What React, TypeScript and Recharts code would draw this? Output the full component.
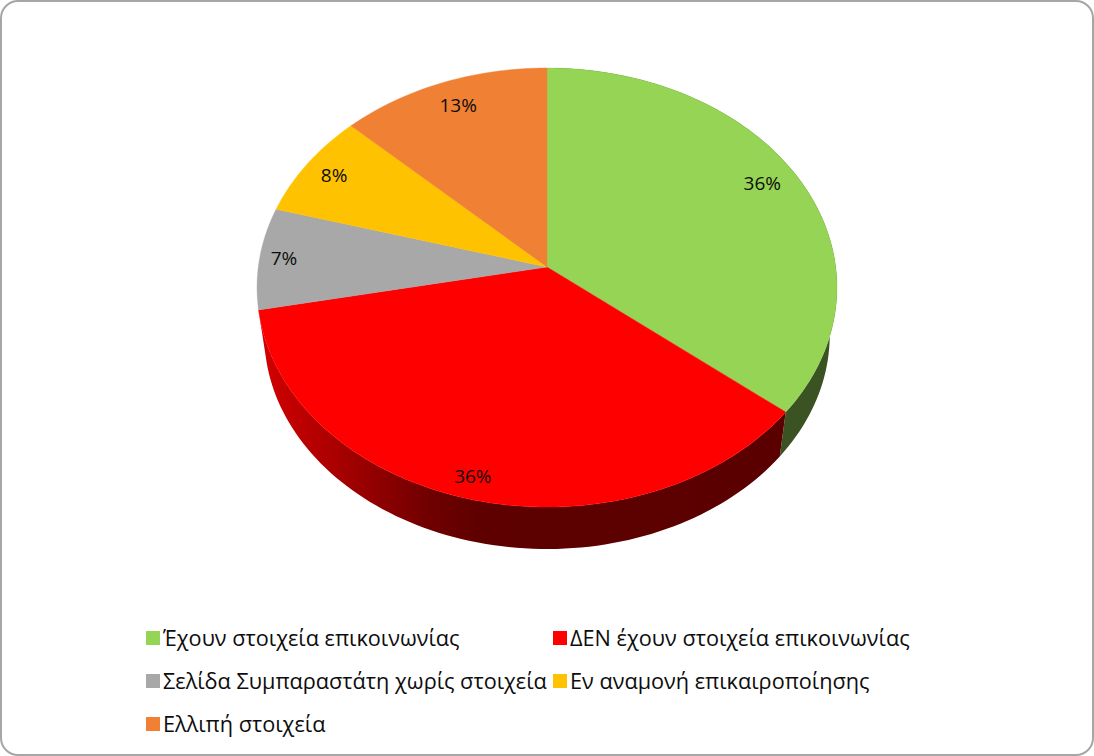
import { PieChart, Pie, Legend } from 'recharts'

const categories = [
  'Έχουν στοιχεία επικοινωνίας',
  'ΔΕΝ έχουν στοιχεία επικοινωνίας',
  'Σελίδα Συμπαραστάτη χωρίς στοιχεία',
  'Εν αναμονή επικαιροποίησης',
  'Ελλιπή στοιχεία',
]
const shares = [35.8, 36.1, 7.49, 7.75, 12.86]
const colors = ['#95D454', '#FF0000', '#A8A8A8', '#FFC200', '#F08033']
const wallFills = ['#3B5323', 'url(#redWall)', null, null, null]
// small hand nudges for the data labels, px
const labelNudge = [[-6, -4], [-8, 7], [-10, -1], [-1, -1], [4, 2]]

const rows = categories.map((name, i) => ({ name, value: shares[i], fill: colors[i] }))

const FONT = '"Open Sans", sans-serif'

// the disc is seen in perspective: back edge is nearer the centre than the front edge
const TILT_Y = 217.6 / 288.7
const PERSP = 0.0934
const WALL_DROP = 48
const WALL_SHRINK = 0.975

function project(cx: number, cy: number, r: number, deg: number, ratio = 1) {
  const u = Math.cos((deg * Math.PI) / 180) * ratio
  const v = Math.sin((deg * Math.PI) / 180) * ratio
  const w = 1 + PERSP * v
  return { x: cx + (r * u) / w, y: cy - (r * TILT_Y * v) / w }
}

function bottomRim(cx: number, cy: number, r: number, deg: number) {
  const p = project(cx, cy, r, deg)
  return { x: cx + (p.x - cx) * WALL_SHRINK, y: cy + WALL_DROP + (p.y - cy) * WALL_SHRINK }
}

function sweep(start: number, end: number) {
  const n = Math.max(2, Math.ceil(Math.abs(end - start) / 1.5))
  return Array.from({ length: n + 1 }, (_, i) => start + ((end - start) * i) / n)
}

const toPath = (pts: { x: number; y: number }[]) =>
  pts.map((p, i) => `${i ? 'L' : 'M'}${p.x.toFixed(2)},${p.y.toFixed(2)}`).join(' ') + ' Z'

function Slice(props: any) {
  const { cx, cy, outerRadius, startAngle, endAngle, fill, index } = props
  const angles = sweep(startAngle, endAngle)
  const rim = angles.map(a => project(cx, cy, outerRadius, a))
  const wall = wallFills[index]
  const lower = angles.map(a => bottomRim(cx, cy, outerRadius, a)).reverse()
  return (
    <g>
      {wall && <path d={toPath([...rim, ...lower])} fill={wall} />}
      <path d={toPath([{ x: cx, y: cy }, ...rim])} fill={fill} stroke={fill} strokeWidth={0.4} />
    </g>
  )
}

function SliceLabel(props: any) {
  const { cx, cy, outerRadius, midAngle, percent, index } = props
  const p = project(cx, cy, outerRadius, midAngle, 0.88)
  return (
    <text
      x={p.x + labelNudge[index][0]}
      y={p.y + labelNudge[index][1]}
      textAnchor="middle"
      dominantBaseline="central"
      fontSize={19}
      fontFamily={FONT}
      fill="#0d0d0d"
    >
      {`${Math.round(percent * 100)}%`}
    </text>
  )
}

function LegendBlock({ payload }: any) {
  return (
    <div style={{ display: 'flex', flexWrap: 'wrap', width: 820, fontFamily: FONT, fontSize: 21.7, color: '#0d0d0d' }}>
      {(payload ?? []).map((item: any) => (
        <div key={item.value} style={{ width: 407, height: 43, display: 'flex', alignItems: 'center', whiteSpace: 'nowrap' }}>
          <span style={{ width: 14, height: 14, background: item.color, marginRight: 3, flexShrink: 0 }} />
          <span>{item.value}</span>
        </div>
      ))}
    </div>
  )
}

export default function App() {
  return (
    <div style={{ position: 'relative', width: 1094, height: 756, boxSizing: 'border-box', border: '2px solid #A6A6A6', borderRadius: 18, background: '#fff', overflow: 'hidden' }}>
      <style>{'body{margin:0}'}</style>
      <div style={{ position: 'absolute', left: -2, top: -2 }}>
        <PieChart width={1094} height={756} margin={{ top: 0, right: 0, bottom: 0, left: 0 }}>
          <defs>
            <linearGradient id="redWall" gradientUnits="userSpaceOnUse" x1={258} y1={0} x2={790} y2={0}>
              <stop offset="0%" stopColor="#D40000" />
              <stop offset="15%" stopColor="#A80000" />
              <stop offset="32%" stopColor="#700000" />
              <stop offset="42%" stopColor="#5E0000" />
              <stop offset="100%" stopColor="#5A0000" />
            </linearGradient>
          </defs>
          <Pie
            data={rows}
            dataKey="value"
            nameKey="name"
            cx={547}
            cy={267}
            outerRadius={288.7}
            startAngle={90}
            endAngle={-270}
            stroke="none"
            shape={Slice}
            label={SliceLabel}
            labelLine={false}
            isAnimationActive={false}
          />
          <Legend content={LegendBlock} itemSorter={null} wrapperStyle={{ left: 146, top: 616, width: 820 }} />
        </PieChart>
      </div>
    </div>
  )
}
